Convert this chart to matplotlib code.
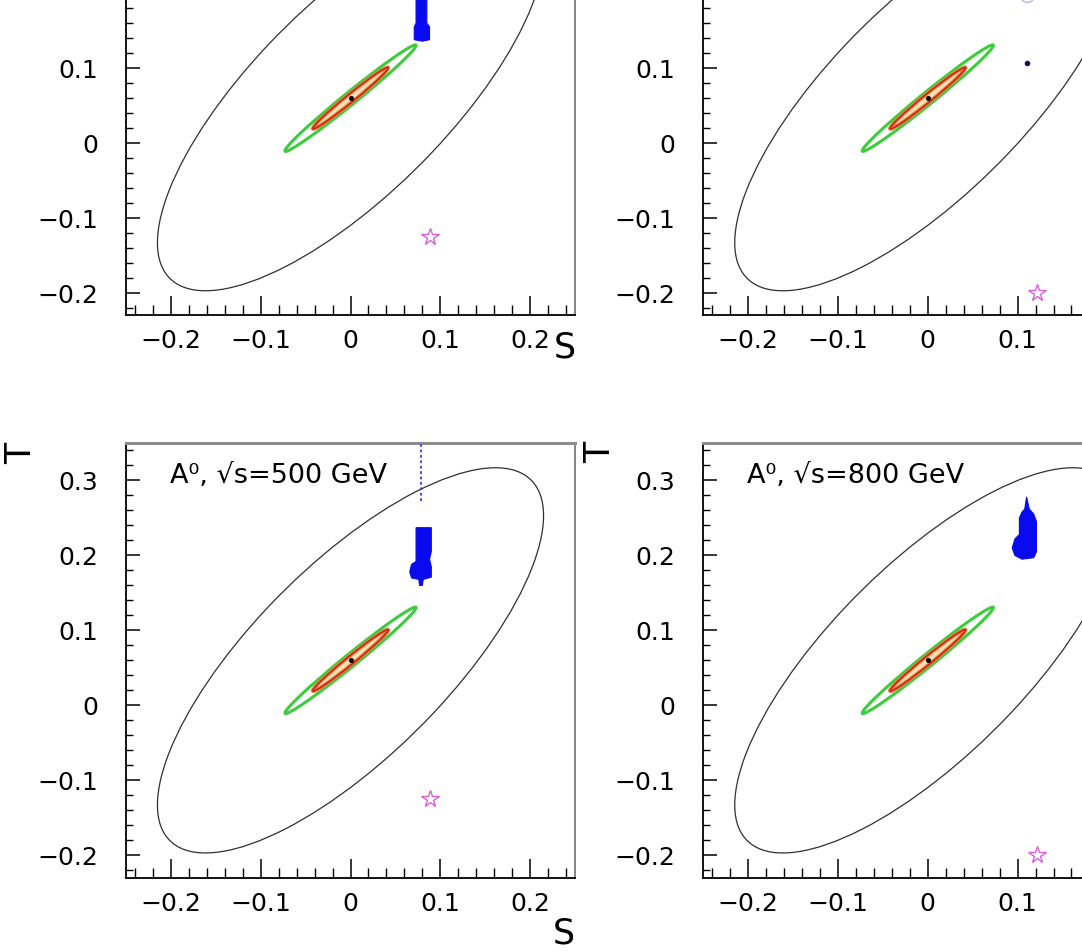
import numpy as np
import matplotlib
matplotlib.use("Agg")
import matplotlib.pyplot as plt
from matplotlib.patches import Ellipse
from matplotlib.ticker import MultipleLocator, FixedLocator, FixedFormatter

W, H = 1082, 952

# S-T contours: centre and (half-extent S, half-extent T, correlation)
CENTER = (0.0, 0.06)
OUTER = (0.215, 0.257, 0.751)
GREEN = (0.073, 0.071, 0.989)
RED = (0.042, 0.041, 0.986)

X_TICKS = [-0.2, -0.1, 0.0, 0.1, 0.2]
X_LABELS = ["\u22120.2", "\u22120.1", "0", "0.1", "0.2"]
# right column is cropped before the 0.2 label
X_LABELS_RIGHT = ["\u22120.2", "\u22120.1", "0", "0.1", ""]
Y_TICKS = [-0.2, -0.1, 0.0, 0.1, 0.2, 0.3]
Y_LABELS = ["\u22120.2", "\u22120.1", "0", "0.1", "0.2", "0.3"]
# top row is cropped above T = 0.19
Y_LABELS_TOP = ["\u22120.2", "\u22120.1", "0", "0.1", "", ""]

# SM reference star, left column / right column
STAR_S = [0.089, 0.122]
STAR_T = [-0.125, -0.200]

# blue scan regions
BLOB_TL_S = [0.073, 0.085, 0.085, 0.088, 0.088, 0.080, 0.071, 0.071, 0.073]
BLOB_TL_T = [0.250, 0.250, 0.160, 0.155, 0.138, 0.136, 0.138, 0.155, 0.160]

BLOB_BL_S = [0.073, 0.090, 0.090, 0.088, 0.090, 0.090, 0.081, 0.080, 0.077,
             0.076, 0.068, 0.066, 0.068, 0.073]
BLOB_BL_T = [0.237, 0.237, 0.205, 0.195, 0.185, 0.171, 0.168, 0.160, 0.160,
             0.168, 0.170, 0.178, 0.188, 0.192]
DOT_BL_S = [0.079, 0.079]
DOT_BL_T = [0.273, 0.350]

BLOB_BR_S = [0.108, 0.110, 0.113, 0.118, 0.121, 0.121, 0.118, 0.105, 0.097,
             0.094, 0.097, 0.102, 0.102, 0.105]
BLOB_BR_T = [0.262, 0.278, 0.262, 0.255, 0.245, 0.205, 0.197, 0.195, 0.200,
             0.210, 0.222, 0.228, 0.250, 0.258]

POINT_TR_S = [0.111]
POINT_TR_T = [0.107]
FAINT_TR_S = [0.111]
FAINT_TR_T = [0.197]

PANEL_TEXT = {"bl": "A\u2070, \u221as=500 GeV", "br": "A\u2070, \u221as=800 GeV"}

BLUE = "#0a0af0"
STAR = "#d860d8"


def _ellipse(params, **kw) -> Ellipse:
    sx, sy, rho = params
    cov = np.array([[sx * sx, rho * sx * sy], [rho * sx * sy, sy * sy]])
    vals, vecs = np.linalg.eigh(cov)
    angle = np.degrees(np.arctan2(vecs[1, 1], vecs[0, 1]))
    return Ellipse(CENTER, 2 * np.sqrt(vals[1]), 2 * np.sqrt(vals[0]), angle=angle, **kw)


def _frame(ax, xlabels, ylabels) -> None:
    ax.set_xlim(-0.25, 0.25)
    ax.set_ylim(-0.23, 0.35)
    ax.xaxis.set_major_locator(FixedLocator(X_TICKS))
    ax.xaxis.set_major_formatter(FixedFormatter(xlabels))
    ax.yaxis.set_major_locator(FixedLocator(Y_TICKS))
    ax.yaxis.set_major_formatter(FixedFormatter(ylabels))
    ax.xaxis.set_minor_locator(MultipleLocator(0.02))
    ax.yaxis.set_minor_locator(MultipleLocator(0.02))
    ax.tick_params(axis="x", which="major", direction="in", length=13.5, width=1.1,
                   pad=10, labelsize=18)
    ax.tick_params(axis="x", which="minor", direction="in", length=7.5, width=1.0)
    ax.tick_params(axis="y", which="major", direction="in", length=10, width=1.1,
                   pad=20, labelsize=18)
    ax.tick_params(axis="y", which="minor", direction="in", length=5, width=1.0)
    for side in ("left", "bottom"):
        ax.spines[side].set_color("black")
        ax.spines[side].set_linewidth(1.3)
    ax.spines["top"].set_color("#8c8c8c")
    ax.spines["top"].set_linewidth(2.2)
    ax.spines["right"].set_color("#6e6e6e")
    ax.spines["right"].set_linewidth(1.2)


def _contours(ax, col: int) -> None:
    ax.add_patch(_ellipse(OUTER, fill=False, edgecolor="#303030", linewidth=0.9, zorder=2))
    ax.add_patch(_ellipse(GREEN, fill=False, edgecolor="#3ccc3c", linewidth=2.2, zorder=3))
    ax.add_patch(_ellipse(RED, facecolor="#fbe0b4", edgecolor="#d88a40", linewidth=2.8, zorder=3))
    ax.add_patch(_ellipse(RED, fill=False, edgecolor="#d42020", linewidth=1.2, zorder=4))
    ax.plot([CENTER[0]], [CENTER[1]], "o", color="black", markersize=2.6, zorder=5)
    ax.plot([STAR_S[col]], [STAR_T[col]], marker="*", markersize=13, markerfacecolor="none",
            markeredgecolor=STAR, markeredgewidth=1.0, linestyle="none", zorder=5)


fig = plt.figure(figsize=(W / 100, H / 100), dpi=100)

left_x, right_x, width = 126 / W, 703.3 / W, 449 / W
height = 434.7 / H
bottom_row, top_row = 1 - 877.7 / H, 1 - 315.5 / H

ax_tl = fig.add_axes([left_x, top_row, width, height])
ax_tr = fig.add_axes([right_x, top_row, width, height])
ax_bl = fig.add_axes([left_x, bottom_row, width, height])
ax_br = fig.add_axes([right_x, bottom_row, width, height])

panels = (
    (ax_tl, 0, X_LABELS, Y_LABELS_TOP),
    (ax_tr, 1, X_LABELS_RIGHT, Y_LABELS_TOP),
    (ax_bl, 0, X_LABELS, Y_LABELS),
    (ax_br, 1, X_LABELS_RIGHT, Y_LABELS),
)
for ax, col, xl, yl in panels:
    _frame(ax, xl, yl)
    _contours(ax, col)

ax_tl.fill(BLOB_TL_S, BLOB_TL_T, color=BLUE, linewidth=0.8, zorder=6)
ax_tr.plot(POINT_TR_S, POINT_TR_T, "o", color="#10106a", markersize=3, zorder=6)
ax_tr.plot(FAINT_TR_S, FAINT_TR_T, "o", markerfacecolor="none", markeredgecolor="#b4b4f2",
           markersize=10, zorder=6)
ax_bl.fill(BLOB_BL_S, BLOB_BL_T, color=BLUE, linewidth=0.8, zorder=6)
ax_bl.plot(DOT_BL_S, DOT_BL_T, color="#3a3ae8", linewidth=1.3, linestyle=(0, (1.5, 1.5)),
           zorder=6, clip_on=False)
ax_br.fill(BLOB_BR_S, BLOB_BR_T, color=BLUE, linewidth=0.8, zorder=6)

for ax, key in ((ax_bl, "bl"), (ax_br, "br")):
    ax.text(0.098, 0.908, PANEL_TEXT[key], transform=ax.transAxes, fontsize=19.5,
            ha="left", va="baseline", zorder=7)

# axis titles, placed like the original layout
fig.text(565 / W, 1 - 348 / H, "S", fontsize=25, ha="center", va="center")
fig.text(564 / W, 1 - 933 / H, "S", fontsize=25, ha="center", va="center")
fig.text(21 / W, 1 - 453 / H, "T", fontsize=25, ha="center", va="center", rotation=90)
fig.text(600 / W, 1 - 452 / H, "T", fontsize=25, ha="center", va="center", rotation=90)

fig.savefig("out.png", dpi=100, facecolor="white")
